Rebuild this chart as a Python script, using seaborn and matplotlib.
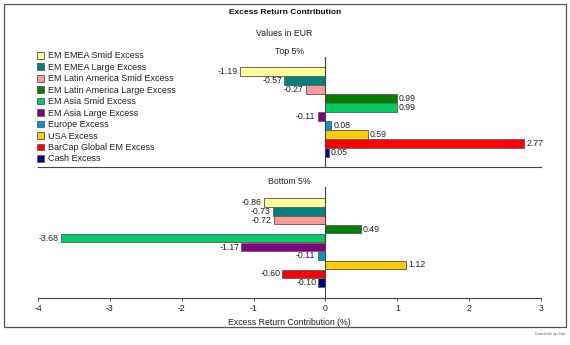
import matplotlib
matplotlib.use("Agg")
import matplotlib.pyplot as plt
import seaborn as sns
import pandas as pd
from matplotlib.patches import Rectangle, Patch

categories = ["EM EMEA Smid Excess", "EM EMEA Large Excess", "EM Latin America Smid Excess",
              "EM Latin America Large Excess", "EM Asia Smid Excess", "EM Asia Large Excess",
              "Europe Excess", "USA Excess", "BarCap Global EM Excess", "Cash Excess"]
top_values = [-1.19, -0.57, -0.27, 0.99, 0.99, -0.11, 0.08, 0.59, 2.77, 0.05]
bottom_values = [-0.86, -0.73, -0.72, 0.49, -3.68, -1.17, -0.11, 1.12, -0.60, -0.10]
colors = ["#FFFF99", "#008080", "#FF9999", "#008000", "#00CC66", "#800080",
          "#0099CC", "#FFCC00", "#FF0000", "#000080"]
xticks = [-4, -3, -2, -1, 0, 1, 2, 3]

plt.rcParams['font.family'] = ['Liberation Sans', 'DejaVu Sans']

W, H = 570, 345
fig = plt.figure(figsize=(W / 100, H / 100), dpi=100)

def fx(x):
    return x / W

def fy(y):
    return 1 - y / H

palette = dict(zip(categories, colors))
EDGE = "#666666"
TXT = "#222222"
FS = 6.3

# outer frame
fig.patches.append(Rectangle((fx(4), fy(327)), fx(566) - fx(4), fy(4) - fy(327),
                             transform=fig.transFigure, fill=False,
                             edgecolor="#555555", lw=0.9))

fig.text(fx(285), fy(13), "Excess Return Contribution", ha="center", va="center",
         fontsize=6, fontweight="bold", color="#111111")
fig.text(fx(284), fy(33), "Values in EUR", ha="center", va="center", fontsize=FS, color=TXT)
fig.text(fx(565), fy(334), "Created with ngs Style", ha="right", va="center",
         fontsize=2.2, color="#555555")


def panel(top, bottom, values, title, r0, spacing, show_x):
    ax = fig.add_axes([fx(38), fy(bottom), fx(541) - fx(38), fy(top) - fy(bottom)])
    df = pd.DataFrame({"category": categories, "value": values})
    sns.barplot(data=df, y="category", x="value", hue="category", palette=palette,
                dodge=False, legend=False, orient="h", width=0.94, saturation=1,
                edgecolor=EDGE, linewidth=0.7, ax=ax)
    y_top = -(r0 - top) / spacing
    y_bot = 9 + (bottom - (r0 + 9 * spacing)) / spacing
    ax.set_ylim(y_bot, y_top)
    ax.set_xlim(-4, 3)
    ax.axvline(0, color="#444444", lw=0.8, zorder=3)
    ax.patch.set_alpha(0)
    for s in ["top", "left", "right"]:
        ax.spines[s].set_visible(False)
    ax.spines["bottom"].set_color("#444444")
    ax.spines["bottom"].set_linewidth(0.8)
    ax.set_yticks([])
    ax.set_ylabel("")
    for i, v in enumerate(values):
        if v < 0:
            ax.annotate(f"{v:.2f}", (v, i), xytext=(-1.5, 0), textcoords="offset points",
                        ha="right", va="center", fontsize=FS, color=TXT)
        else:
            ax.annotate(f"{v:.2f}", (v, i), xytext=(1.5, 0), textcoords="offset points",
                        ha="left", va="center", fontsize=FS, color=TXT)
    fig.text(fx(289.5), fy(top - 5), title, ha="center", va="center", fontsize=FS, color=TXT)
    if show_x:
        ax.set_xticks(xticks)
        ax.set_xticklabels([str(t) for t in xticks], fontsize=FS, color=TXT)
        ax.tick_params(axis="x", length=2.5, width=0.7, color="#444444", pad=1.5)
        ax.set_xlabel("Excess Return Contribution (%)", fontsize=FS, color=TXT, labelpad=4)
    else:
        ax.set_xticks([])
        ax.set_xlabel("")
    return ax


panel(57, 167, top_values, "Top 5%", 71.5, 8.98, False)
panel(187, 298, bottom_values, "Bottom 5%", 202.5, 8.9, True)

handles = [Patch(facecolor=c, edgecolor=EDGE, lw=0.7) for c in colors]
fig.legend(handles, categories, loc="upper left", bbox_to_anchor=(fx(37), fy(51.5)),
           frameon=False, fontsize=6.5, handlelength=0.75, handleheight=0.75,
           handletextpad=0.45, labelspacing=0.27, borderaxespad=0, borderpad=0,
           labelcolor=TXT)

fig.savefig("out.png", dpi=100)
